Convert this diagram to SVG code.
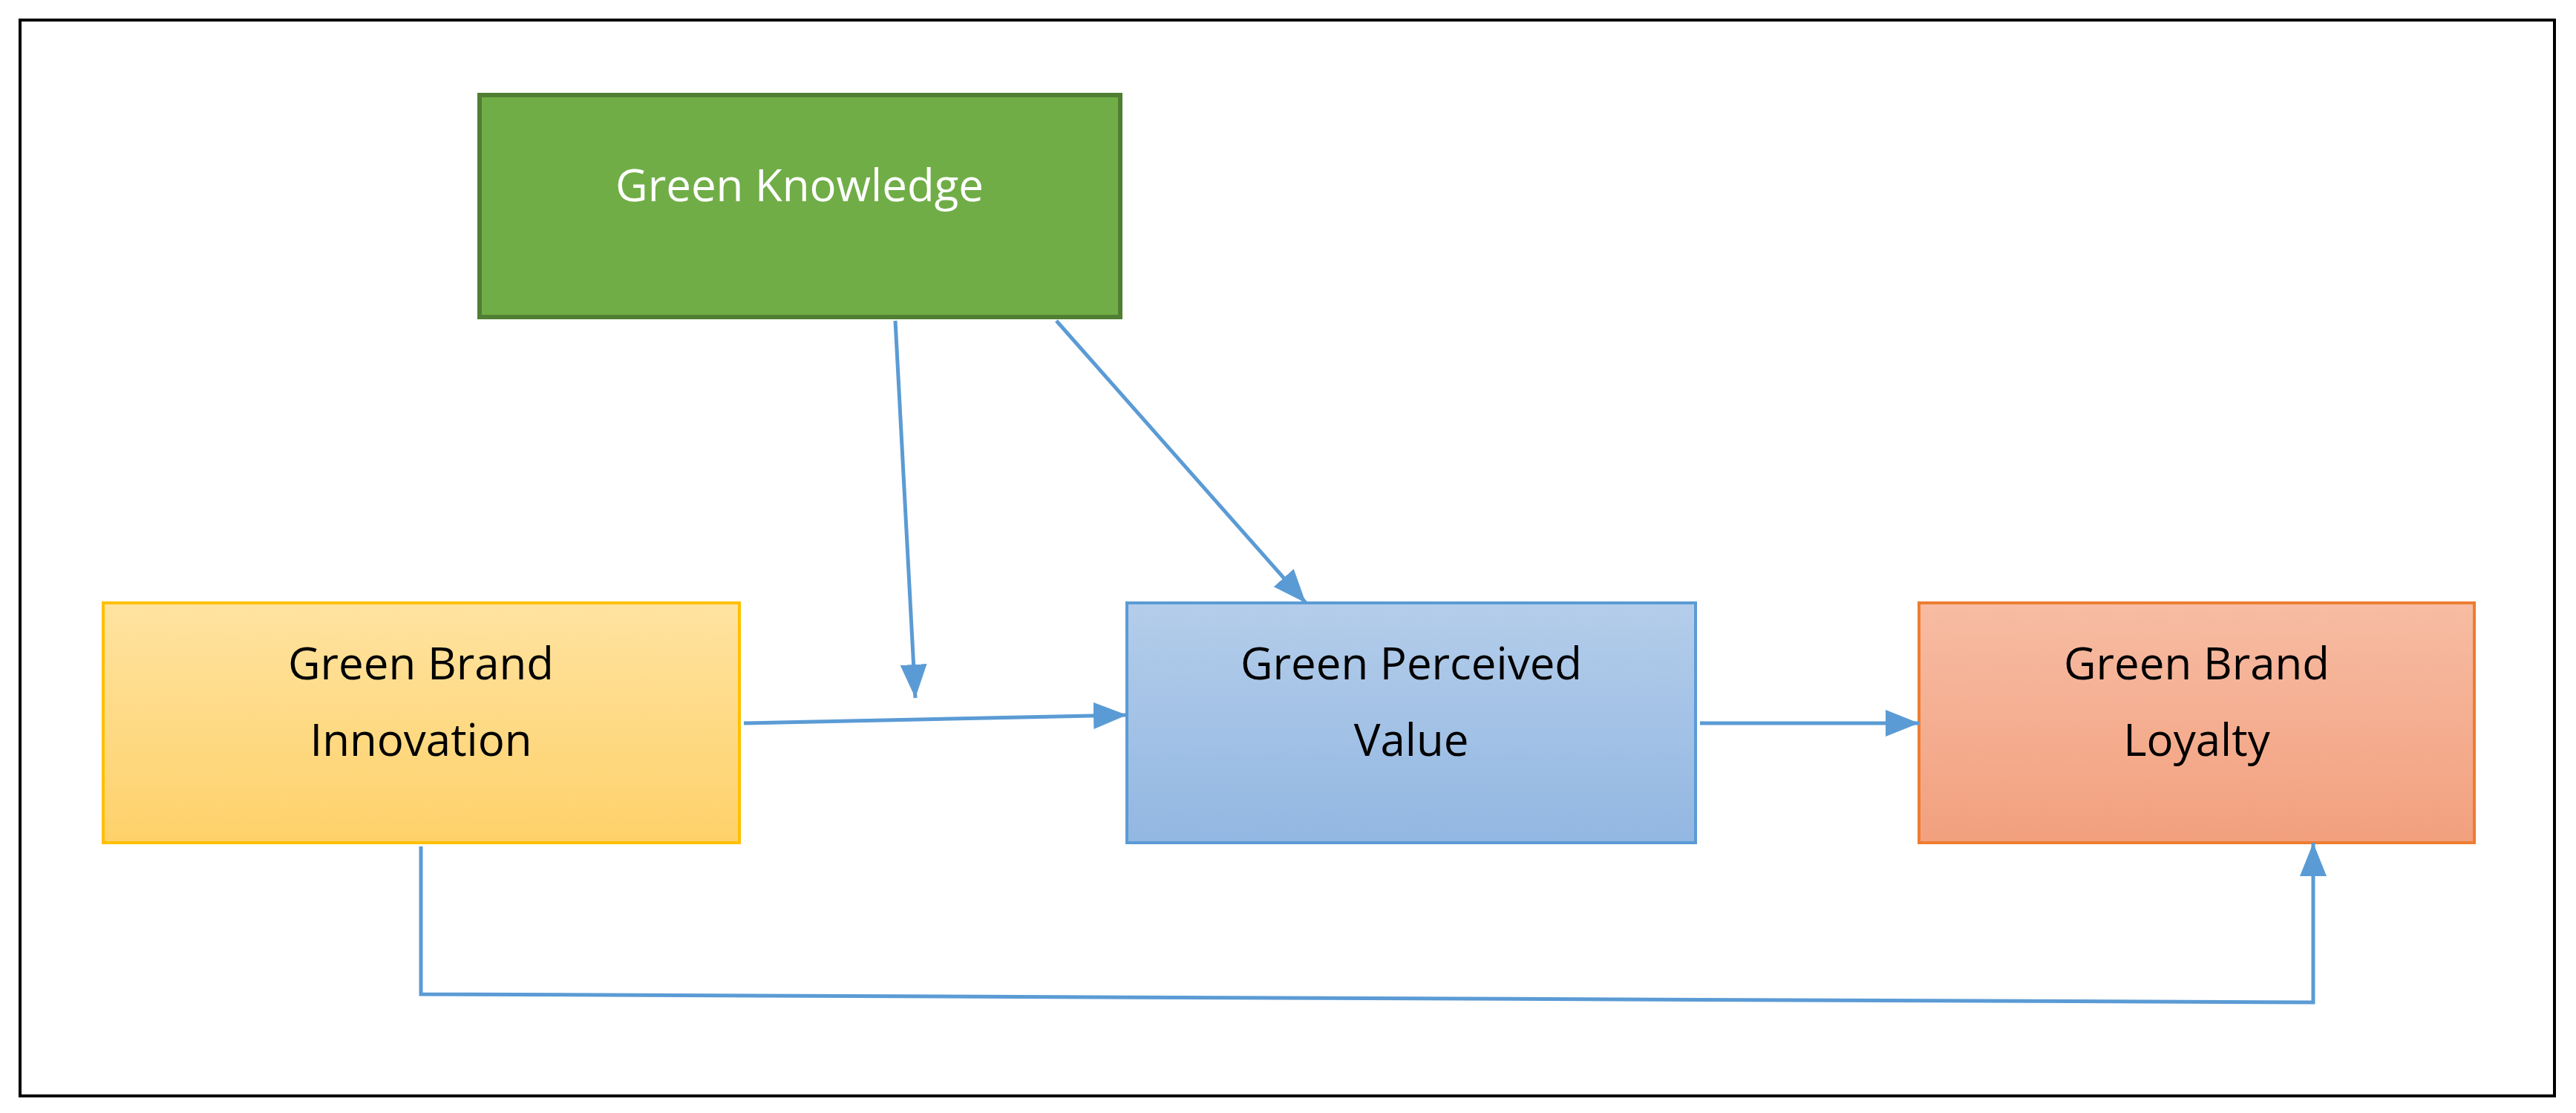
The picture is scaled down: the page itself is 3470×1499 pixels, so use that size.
<svg xmlns="http://www.w3.org/2000/svg" width="3470" height="1499" viewBox="0 0 3470 1499">
<style>
.t{font-family:"Open Sans","Liberation Sans",sans-serif;font-size:60px;text-anchor:middle;fill:#000}
.c{stroke:#5b9bd5;stroke-width:5;fill:none}
</style>
<defs>
<linearGradient id="gy" x1="0" y1="0" x2="0" y2="1"><stop offset="0" stop-color="#ffe3a0"/><stop offset="1" stop-color="#fed16a"/></linearGradient>
<linearGradient id="gb" x1="0" y1="0" x2="0" y2="1"><stop offset="0" stop-color="#b4cdea"/><stop offset="1" stop-color="#92b7e2"/></linearGradient>
<linearGradient id="gr" x1="0" y1="0" x2="0" y2="1"><stop offset="0" stop-color="#f7bca3"/><stop offset="1" stop-color="#f2a07e"/></linearGradient>
<marker id="a" viewBox="0 0 10 10" refX="10" refY="5" markerWidth="9" markerHeight="9" markerUnits="userSpaceOnUse" orient="auto" style="overflow:visible"><path d="M0,0 L10,5 L0,10 z" fill="#5b9bd5" transform="scale(4.5) translate(-2,-0)"/></marker>
<marker id="m" viewBox="0 0 10 10" refX="10" refY="5" markerWidth="45" markerHeight="45" markerUnits="userSpaceOnUse" orient="auto"><path d="M0,1 L10,5 L0,9 z" fill="#5b9bd5"/></marker>
</defs>
<rect x="0" y="0" width="3470" height="1499" fill="#fff"/>
<rect x="27" y="27" width="3414" height="1449" fill="none" stroke="#000" stroke-width="4"/>
<g id="gk"><rect x="646" y="128" width="863" height="299" fill="#70ad47" stroke="#507e32" stroke-width="6"/><text class="t" x="1077" y="271" fill="#fff" style="fill:#fff">Green Knowledge</text></g>
<g id="gbi"><rect x="139" y="812" width="857" height="323" fill="url(#gy)" stroke="#ffc000" stroke-width="4"/><text class="t" x="567" y="915">Green Brand</text><text class="t" x="567" y="1018">Innovation</text></g>
<g id="gpv"><rect x="1518" y="812" width="766" height="323" fill="url(#gb)" stroke="#5b9bd5" stroke-width="4"/><text class="t" x="1901" y="915">Green Perceived</text><text class="t" x="1901" y="1018">Value</text></g>
<g id="gbl"><rect x="2585" y="812" width="748" height="323" fill="url(#gr)" stroke="#ed7d31" stroke-width="4"/><text class="t" x="2959" y="915">Green Brand</text><text class="t" x="2959" y="1018">Loyalty</text></g>
<g id="connectors">
<path class="c" d="M1206,432 L1233,940" marker-end="url(#m)"/>
<path class="c" d="M1423,432 L1759,812" marker-end="url(#m)"/>
<path class="c" d="M1002,974 L1518,963" marker-end="url(#m)"/>
<path class="c" d="M2290,974 L2585,974" marker-end="url(#m)"/>
<path class="c" d="M567,1140 L567,1339 L3116,1350 L3116,1135" marker-end="url(#m)"/>
</g>
</svg>
